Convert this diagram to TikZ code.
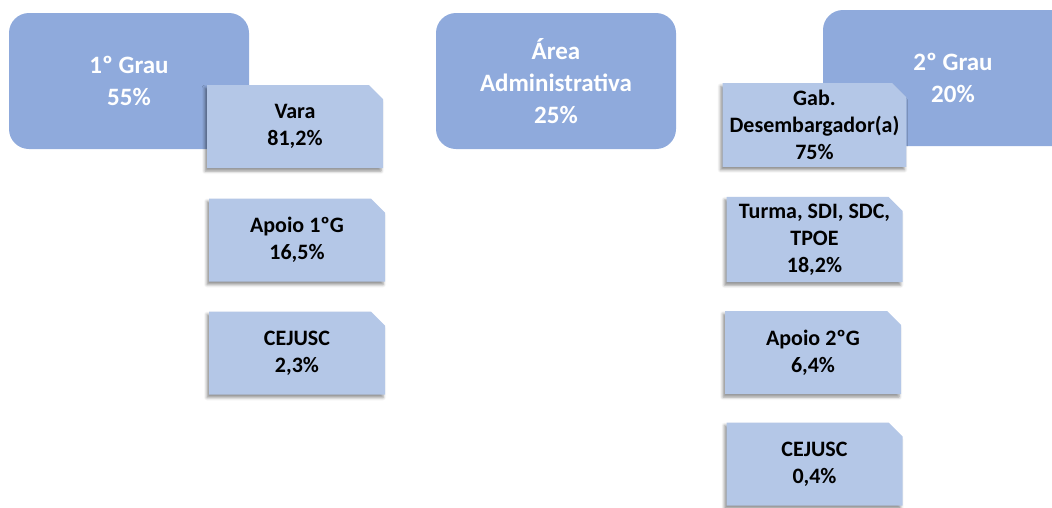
\documentclass[tikz,border=0pt]{standalone}
\usepackage{fontspec}
\setmainfont{Carlito}
\usetikzlibrary{shapes.misc,shadows.blur}
\definecolor{hdr}{HTML}{8FAADC}
\definecolor{subc}{HTML}{B4C7E7}
\tikzset{
  hdrbox/.style={rounded corners=20pt, fill=hdr, minimum width=240pt, minimum height=136pt,
    inner sep=0pt, text=white, align=center, font=\bfseries\fontsize{25}{32}\selectfont},
  subbox/.style={chamfered rectangle, chamfered rectangle corners=north east,
    chamfered rectangle xsep=7pt, chamfered rectangle ysep=7pt,
    fill=subc, minimum width=176pt, minimum height=83pt, inner sep=0pt,
    text=black, align=center, font=\bfseries\fontsize{22}{27}\selectfont,
    blur shadow={shadow xshift=-2pt, shadow yshift=-3pt, shadow blur radius=3pt, shadow opacity=45}}
}
\begin{document}
\begin{tikzpicture}[x=1pt,y=-1pt]
\useasboundingbox (0,0) rectangle (1052,507);
\clip (0,0) rectangle (1052,507);
\node[hdrbox] (g1) at (129,81) {1º Grau\\55\%};
\node[hdrbox] (adm) at (556,81) {Área\\Administrativa\\25\%};
\node[hdrbox, minimum width=260pt] (g2) at (953,78) {2º Grau\\20\%};
\node[subbox] (vara) at (295,126.5) {Vara\\81,2\%};
\node[subbox] (ap1) at (297,240) {Apoio 1ºG\\16,5\%};
\node[subbox] (cej1) at (297,353) {CEJUSC\\2,3\%};
\node[subbox] (gab) at (814.5,125) {Gab.\\Desembargador(a)\\75\%};
\node[subbox] (turma) at (814.5,239.5) {Turma, SDI, SDC,\\TPOE\\18,2\%};
\node[subbox] (ap2) at (813,352.5) {Apoio 2ºG\\6,4\%};
\node[subbox] (cej2) at (814.5,464) {CEJUSC\\0,4\%};
\end{tikzpicture}
\end{document}
